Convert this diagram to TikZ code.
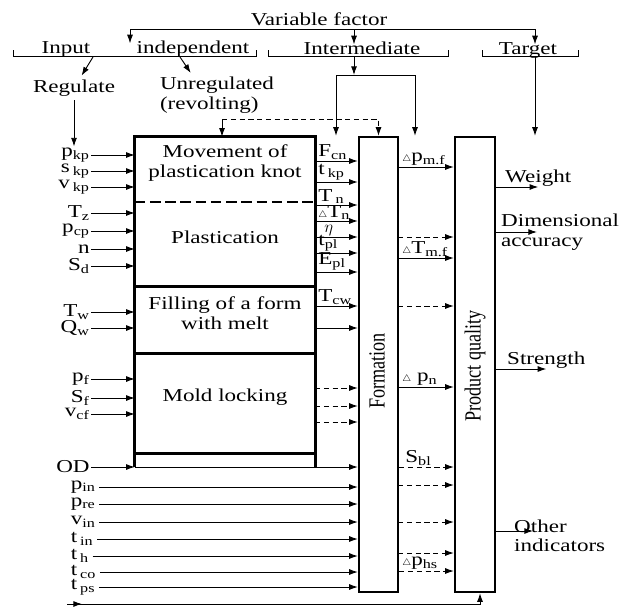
\documentclass[tikz,border=0pt]{standalone}
\usepackage{fontspec}
\setmainfont[FakeStretch=1.27]{Liberation Serif}
\newfontfamily\uprightserif{Liberation Serif}
\usetikzlibrary{arrows.meta,fit}
\tikzset{
  part/.style={inner sep=0pt, align=left},
  bar/.style={draw, line width=2pt, inner sep=0pt},
  frame/.style={line width=2.2pt},
  dframe/.style={line width=1.6pt, dash pattern=on 9pt off 4pt},
  grp/.style={inner sep=0pt, text height=8pt, text depth=3pt, anchor=base},
  inlab/.style={anchor=east, inner sep=1pt},
  lowlab/.style={anchor=west, inner xsep=3pt, inner ysep=1pt},
  midlab/.style={anchor=south west, inner sep=1pt},
  outlab/.style={align=left, inner sep=0pt},
  link/.style={line width=0.8pt},
  flow/.style={-{Latex[length=2.6mm,width=1.8mm]}, line width=0.8pt},
  dflow/.style={flow, dash pattern=on 4.5pt off 3pt}
}
\newcommand{\dlt}{$\scriptscriptstyle\triangle$}

\begin{document}
\begin{tikzpicture}[x=0.03cm, y=-0.03cm, font=\fontsize{15.5}{16.5}\selectfont]
  \useasboundingbox (0,0) rectangle (621,608);

  % factor groups
  \node[grp] (varf) at (319,25) {Variable factor};
  \node[grp] (input) at (66,53) {Input};
  \node[grp] (indep) at (193,53) {independent};
  \node[grp] (inter) at (362,54) {Intermediate};
  \node[grp] (target) at (528,54) {Target};
  \coordinate (vl) at (130,29);
  \coordinate (vm) at (354,29);
  \coordinate (vr) at (535,29);
  \draw[link] (vl) -- (vr);
  \draw[flow] (vl) -- (vl |- indep.north);
  \draw[flow] (vm) -- (vm |- inter.north);
  \draw[flow] (vr) -- (vr |- target.north);
  \draw[link] (13,50) -- (13,56) -- (256,56) -- (256,50);
  \draw[link] (268,50) -- (268,56) -- (448,56) -- (448,50);
  \draw[link] (482,50) -- (482,56) -- (578,56) -- (578,50);

  \node (reg) at (74,88) {Regulate};
  \node[align=left] (unreg) at (217,95) {Unregulated\\(revolting)};
  \coordinate (ia) at (93,57);
  \coordinate (ib) at (180,57);
  \draw[flow] (ia) -- (reg);
  \draw[flow] (ib) -- (unreg.140);

  % process stages
  \node[part, fit={(135,137) (315,202)}] (move) {Movement of\\plastication knot};
  \node[part, fit={(135,202) (315,286)}] (plast) {Plastication};
  \node[part, fit={(135,286) (315,353)}] (fill) {Filling of a form\\with melt};
  \node[part, fit={(135,353) (315,453)}] (lock) {Mold locking};
  \node[part, fit={(135,453) (315,467)}] (base) {};
  \draw[frame] (base.south west) -- (move.north west) -- (move.north east) -- (base.south east);
  \draw[dframe] (move.south west) -- (move.south east);
  \draw[frame] (plast.south west) -- (plast.south east);
  \draw[frame] (fill.south west) -- (fill.south east);
  \draw[frame] (lock.south west) -- (lock.south east);

  \node[bar, fit={(359,137) (398,592)}] (form) {};
  \node[bar, fit={(455,137) (495,592)}] (pq) {};
  \node[rotate=90] (formtxt) at (377,371) {\uprightserif\scalebox{1}[1.27]{Formation}};
  \node[rotate=90] (pqtxt) at (475,366) {\uprightserif\scalebox{1}[1.27]{Product quality}};

  % feeds from the top
  \coordinate (ur) at (222,119);
  \draw[flow] (ur) -- (ur |- move.north);
  \draw[dflow] (ur) -| (form.north);
  \coordinate (im) at (354,57);
  \coordinate (il) at (336,75);
  \coordinate (ir) at (415,75);
  \draw[flow] (im) -- (im |- il);
  \draw[link] (il) -- (ir);
  \draw[flow] (il) -- (il |- form.north);
  \draw[flow] (ir) -- (ir |- pq.north);
  \coordinate (tg) at (535,57);
  \draw[flow] (tg) -- (tg |- pq.north);

  % regulated inputs
  \node[inlab] (pkp) at (91,155) {p\textsubscript{kp}};
  \node[inlab] (skp) at (91,171) {s\,\textsubscript{kp}};
  \node[inlab] (vkp) at (91,187) {v\,\textsubscript{kp}};
  \node[inlab] (tz) at (91,213) {T\textsubscript{z}};
  \node[inlab] (pcp) at (91,231) {p\textsubscript{cp}};
  \node[inlab] (nn) at (91,249) {n};
  \node[inlab] (sd) at (91,266) {S\textsubscript{d}};
  \node[inlab] (tw) at (91,312) {T\textsubscript{w}};
  \node[inlab] (qw) at (91,328) {Q\textsubscript{w}};
  \node[inlab] (pf) at (91,379) {p\textsubscript{f}};
  \node[inlab] (sf) at (91,398) {S\textsubscript{f}};
  \node[inlab] (vcf) at (91,414) {v\textsubscript{cf}};
  \node[inlab] (od) at (91,467) {OD};
  \draw[flow] (reg) -- (reg |- pkp.north);
  \draw[flow] (pkp) -- (pkp -| move.west);
  \draw[flow] (skp) -- (skp -| move.west);
  \draw[flow] (vkp) -- (vkp -| move.west);
  \draw[flow] (tz) -- (tz -| plast.west);
  \draw[flow] (pcp) -- (pcp -| plast.west);
  \draw[flow] (nn) -- (nn -| plast.west);
  \draw[flow] (sd) -- (sd -| plast.west);
  \draw[flow] (tw) -- (tw -| fill.west);
  \draw[flow] (qw) -- (qw -| fill.west);
  \draw[flow] (pf) -- (pf -| lock.west);
  \draw[flow] (sf) -- (sf -| lock.west);
  \draw[flow] (vcf) -- (vcf -| lock.west);
  \draw[flow] (od) -- (od -| base.west);
  \draw[flow] (od -| base.west) -- (od -| form.west);

  \node[lowlab] (pin) at (67,487) {p\textsubscript{in}};
  \node[lowlab] (pre) at (67,504) {p\textsubscript{re}};
  \node[lowlab] (vin) at (67,522) {v\textsubscript{in}};
  \node[lowlab] (tin) at (67,539) {t\,\textsubscript{in}};
  \node[lowlab] (th) at (67,556) {t\,\textsubscript{h}};
  \node[lowlab] (tco) at (67,572) {t\,\textsubscript{co}};
  \node[lowlab] (tps) at (67,587) {t\,\textsubscript{ps}};
  \draw[flow] (pin) -- (pin -| form.west);
  \draw[flow] (pre) -- (pre -| form.west);
  \draw[flow] (vin) -- (vin -| form.west);
  \draw[flow] (tin) -- (tin -| form.west);
  \draw[flow] (th) -- (th -| form.west);
  \draw[flow] (tco) -- (tco -| form.west);
  \draw[flow] (tps) -- (tps -| form.west);

  % intermediate parameters
  \node[midlab] (fcn) at (317,161) {F\textsubscript{cn}};
  \node[midlab] (tkp) at (317,182) {t\,\textsubscript{kp}};
  \node[midlab] (tn) at (317,205) {T\,\textsubscript{n}};
  \node[midlab] (dtn) at (317,221) {\dlt T\textsubscript{n}};
  \node[midlab] (eta) at (323,237) {$\eta$};
  \node[midlab] (tpl) at (317,253) {t\textsubscript{pl}};
  \node[midlab] (epl) at (317,272) {E\textsubscript{pl}};
  \node[midlab] (tcw) at (317,306) {T\textsubscript{cw}};
  \draw[flow] (fcn.south -| move.east) -- (fcn.south -| form.west);
  \draw[flow] (tkp.south -| move.east) -- (tkp.south -| form.west);
  \draw[flow] (tn.south -| move.east) -- (tn.south -| form.west);
  \draw[flow] (dtn.south -| move.east) -- (dtn.south -| form.west);
  \draw[flow] (eta.south -| move.east) -- (eta.south -| form.west);
  \draw[flow] (tpl.south -| move.east) -- (tpl.south -| form.west);
  \draw[flow] (epl.south -| move.east) -- (epl.south -| form.west);
  \draw[flow] (tcw.south -| move.east) -- (tcw.south -| form.west);
  \coordinate (m1) at (315,328);
  \coordinate (m2) at (315,388);
  \coordinate (m3) at (315,406);
  \coordinate (m4) at (315,422);
  \draw[flow] (m1) -- (m1 -| form.west);
  \draw[dflow] (m2) -- (m2 -| form.west);
  \draw[dflow] (m3) -- (m3 -| form.west);
  \draw[dflow] (m4) -- (m4 -| form.west);

  % formation to quality
  \node[midlab] (pmf) at (401,167) {\dlt p\textsubscript{m.f}};
  \node[midlab] (tmf) at (401,258) {\dlt T\textsubscript{m.f}};
  \node[midlab] (pn) at (401,387) {\dlt\ p\textsubscript{n}};
  \node[midlab] (sbl) at (404,467) {S\textsubscript{bl}};
  \node[midlab] (phs) at (401,571) {\dlt p\textsubscript{hs}};
  \draw[flow] (pmf.south -| form.east) -- (pmf.south -| pq.west);
  \draw[flow] (tmf.south -| form.east) -- (tmf.south -| pq.west);
  \draw[flow] (pn.south -| form.east) -- (pn.south -| pq.west);
  \draw[dflow] (sbl.south -| form.east) -- (sbl.south -| pq.west);
  \draw[dflow] (phs.south -| form.east) -- (phs.south -| pq.west);
  \coordinate (r1) at (398,237);
  \coordinate (r2) at (398,306);
  \coordinate (r3) at (398,485);
  \coordinate (r4) at (398,522);
  \coordinate (r5) at (398,553);
  \draw[dflow] (r1) -- (r1 -| pq.west);
  \draw[dflow] (r2) -- (r2 -| pq.west);
  \draw[dflow] (r3) -- (r3 -| pq.west);
  \draw[dflow] (r4) -- (r4 -| pq.west);
  \draw[dflow] (r5) -- (r5 -| pq.west);

  % quality indicators
  \node[outlab, anchor=south west] (weight) at (505,187) {Weight};
  \node[outlab, anchor=west] (dim) at (501,232) {Dimensional\\accuracy};
  \node[outlab, anchor=south west] (strength) at (507,369) {Strength};
  \node[outlab, anchor=west] (other) at (514,536) {Other\\indicators};
  \draw[flow] (weight.south -| pq.east) -- (weight.south);
  \draw[flow] (dim.west -| pq.east) -- ([xshift=1.08cm]dim.west);
  \draw[flow] (strength.south -| pq.east) -- (strength.south);
  \draw[flow] ([yshift=0.15cm]other.west -| pq.east) -- ([xshift=0.57cm,yshift=0.15cm]other.west);

  % feedback
  \coordinate (fb) at (67,604);
  \coordinate (fbe) at (480,604);
  \draw[flow] (fb) -- ++(15,0);
  \draw[flow] (fb) -- (fbe) -- (fbe |- pq.south);
\end{tikzpicture}
\end{document}
